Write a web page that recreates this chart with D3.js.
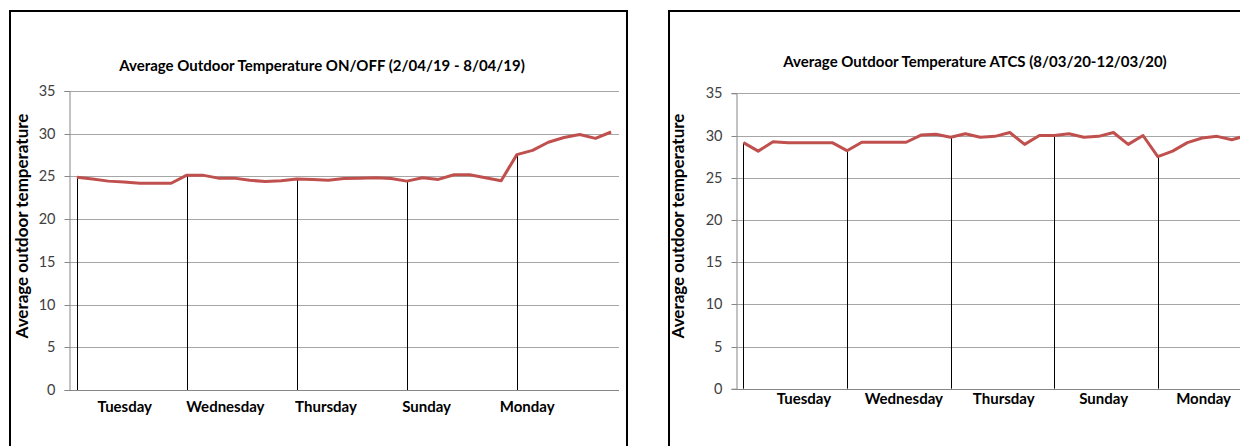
<!DOCTYPE html>
<html>
<head>
<meta charset="utf-8">
<script src="https://cdn.jsdelivr.net/npm/d3@7"></script>
<style>
  html, body { margin: 0; padding: 0; background: #fff; overflow: hidden; }
  svg { display: block; }
  text { font-family: Lato, "Open Sans", sans-serif; }
</style>
</head>
<body>
<svg id="chart" width="1240" height="446"></svg>
<script>
// ---- data ----
const dayLabels = ["Tuesday", "Wednesday", "Thursday", "Sunday", "Monday"];
const pointsPerDay = 7;
const yTicks = [0, 5, 10, 15, 20, 25, 30, 35];

const titleOnOff = "Average Outdoor Temperature ON/OFF (2/04/19 - 8/04/19)";
const titleAtcs = "Average Outdoor Temperature ATCS (8/03/20-12/03/20)";
const yAxisTitle = "Average outdoor temperature";

const tempOnOff = [24.9, 24.7, 24.45, 24.35, 24.2, 24.2, 24.2,
                   25.15, 25.15, 24.8, 24.8, 24.55, 24.4, 24.5,
                   24.7, 24.65, 24.55, 24.75, 24.8, 24.85, 24.75,
                   24.45, 24.85, 24.65, 25.2, 25.2, 24.85, 24.5,
                   27.55, 28.05, 29.0, 29.55, 29.9, 29.45, 30.2];

const tempAtcs = [29.15, 28.15, 29.25, 29.15, 29.15, 29.15, 29.15,
                  28.2, 29.2, 29.2, 29.2, 29.2, 30.05, 30.15,
                  29.8, 30.2, 29.8, 29.9, 30.35, 28.95, 30.0,
                  30.0, 30.2, 29.8, 29.9, 30.35, 28.95, 30.0,
                  27.5, 28.15, 29.15, 29.7, 29.9, 29.5, 30.0];

// ---- layout ----
const panels = [
  { title: titleOnOff, values: tempOnOff,
    frame: { x: 10, y: 11, w: 617, h: 460 },
    plot: { left: 69, right: 619, top: 91, bottom: 390 },
    labelRange: [74.5, 577.5], labelY: 412, titleX: 322, titleY: 71,
    yTitleX: 28, yTitleY: 226 },
  { title: titleAtcs, values: tempAtcs,
    frame: { x: 669, y: 11, w: 617, h: 460 },
    plot: { left: 736, right: 1254, top: 93.3, bottom: 388.7 },
    labelRange: [754, 1253.5], labelY: 404, titleX: 975, titleY: 67,
    yTitleX: 684, yTitleY: 226 }
];

const svg = d3.select("#chart");

panels.forEach(p => {
  const g = svg.append("g");
  g.append("rect")
    .attr("x", p.frame.x).attr("y", p.frame.y)
    .attr("width", p.frame.w).attr("height", p.frame.h)
    .attr("fill", "#fff").attr("stroke", "#000").attr("stroke-width", 2);

  const idx = d3.range(p.values.length);
  const x = d3.scaleBand().domain(idx).range([p.plot.left, p.plot.right]);
  const y = d3.scaleLinear().domain([0, 35]).range([p.plot.bottom, p.plot.top]);
  const xl = d3.scaleBand().domain(dayLabels).range(p.labelRange);
  const cx = i => x(i) + x.bandwidth() / 2;

  // gridlines
  g.append("g").selectAll("line").data(yTicks.filter(t => t > 0)).join("line")
    .attr("x1", p.plot.left).attr("x2", p.plot.right)
    .attr("y1", d => Math.round(y(d)) + 0.5).attr("y2", d => Math.round(y(d)) + 0.5)
    .attr("stroke", "#a6a6a6").attr("stroke-width", 1);

  // y axis
  const ya = d3.axisLeft(y).tickValues(yTicks).tickSize(5).tickPadding(9);
  const yg = g.append("g").attr("transform", `translate(${Math.round(p.plot.left) + 0.5},0)`).call(ya);
  yg.select(".domain").attr("stroke", "#868686");
  yg.selectAll(".tick line").attr("stroke", "#868686");
  yg.selectAll(".tick").attr("transform", d => `translate(0,${Math.round(y(d)) + 0.5})`);
  yg.selectAll(".tick text").attr("fill", "#404040").attr("font-size", 14.5)
    .attr("font-family", "Lato, 'Open Sans', sans-serif");

  // x axis baseline
  g.append("line")
    .attr("x1", p.plot.left).attr("x2", p.plot.right)
    .attr("y1", Math.round(y(0)) + 0.5).attr("y2", Math.round(y(0)) + 0.5)
    .attr("stroke", "#868686");

  // drop lines at the start of each day
  const dropIdx = idx.filter(i => i % pointsPerDay === 0);
  g.append("g").selectAll("line").data(dropIdx).join("line")
    .attr("x1", i => Math.round(cx(i)) + 0.5).attr("x2", i => Math.round(cx(i)) + 0.5)
    .attr("y1", i => y(p.values[i])).attr("y2", y(0))
    .attr("stroke", "#000").attr("stroke-width", 1);

  // series line
  const line = d3.line().x((d, i) => cx(i)).y(d => y(d));
  g.append("path").datum(p.values)
    .attr("d", line)
    .attr("fill", "none").attr("stroke", "#c0504d")
    .attr("stroke-width", 3).attr("stroke-linejoin", "round");

  // day labels
  g.append("g").selectAll("text").data(dayLabels).join("text")
    .attr("x", d => xl(d) + xl.bandwidth() / 2).attr("y", p.labelY)
    .attr("text-anchor", "middle").attr("font-size", 15).attr("font-weight", "bold")
    .attr("fill", "#000").text(d => d);

  // title
  g.append("text").attr("x", p.titleX).attr("y", p.titleY)
    .attr("text-anchor", "middle").attr("font-size", 15).attr("font-weight", "bold")
    .attr("fill", "#000").text(p.title);

  // y axis title
  g.append("text")
    .attr("transform", `translate(${p.yTitleX},${p.yTitleY}) rotate(-90)`)
    .attr("text-anchor", "middle").attr("font-size", 17).attr("font-weight", "bold")
    .attr("fill", "#000").text(yAxisTitle);
});
</script>
</body>
</html>
